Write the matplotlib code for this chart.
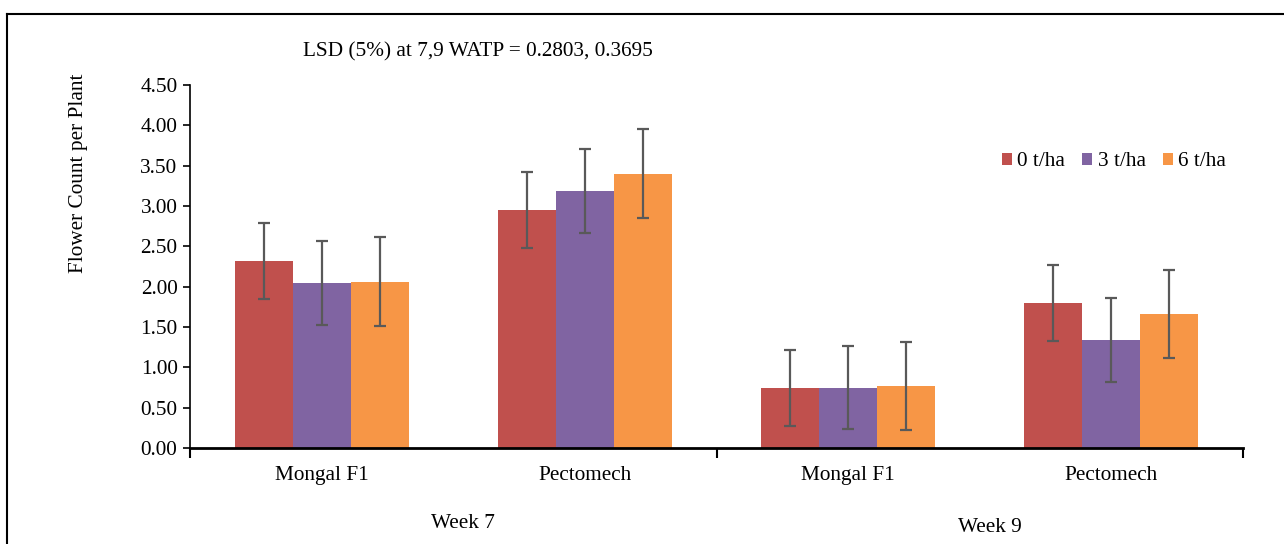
import matplotlib
matplotlib.use("Agg")
import matplotlib.pyplot as plt
import numpy as np
from matplotlib.lines import Line2D

plt.rcParams['font.family'] = ['Liberation Serif', 'DejaVu Serif']

categories = ["Mongal F1", "Pectomech", "Mongal F1", "Pectomech"]
weeks = ["Week 7", "Week 9"]
series_names = ["0 t/ha", "3 t/ha", "6 t/ha"]
vals_0 = [2.32, 2.95, 0.74, 1.80]
vals_3 = [2.05, 3.19, 0.75, 1.34]
vals_6 = [2.06, 3.40, 0.77, 1.66]
err_0 = [0.47, 0.47, 0.47, 0.47]
err_3 = [0.52, 0.52, 0.52, 0.52]
err_6 = [0.55, 0.55, 0.55, 0.55]
yticks = [0.0, 0.5, 1.0, 1.5, 2.0, 2.5, 3.0, 3.5, 4.0, 4.5]
annotation = "LSD (5%) at 7,9 WATP = 0.2803, 0.3695"
ylabel = "Flower Count per Plant"

colors = ["#C0504D", "#8064A2", "#F79646"]
W, H = 1284, 544
fig = plt.figure(figsize=(W/100, H/100), dpi=100)
ax = fig.add_axes([190/W, 1-448/H, (1243-190)/W, (448-85)/H])

fs = 15.3
x = np.arange(len(categories))
bw = 58/263
for i, (v, e, c, n) in enumerate(zip([vals_0, vals_3, vals_6], [err_0, err_3, err_6], colors, series_names)):
    ax.bar(x + (i-1)*bw, v, width=bw, color=c, label=n, zorder=2)
    ax.errorbar(x + (i-1)*bw, v, yerr=e, fmt='none', ecolor='#595959', elinewidth=1.6,
                capsize=4.5, capthick=1.6, zorder=3)

ax.set_xlim(-0.5, 3.5)
ax.set_ylim(0, 4.5)
ax.set_yticks(yticks)
ax.set_yticklabels([f"{t:.2f}" for t in yticks], fontsize=fs)
ax.set_xticks(x)
ax.set_xticklabels(categories, fontsize=fs)
ax.tick_params(axis='x', which='major', length=0, pad=13)
ax.set_xticks([-0.5, 1.5, 3.5], minor=True)
ax.tick_params(axis='x', which='minor', length=7, width=1.5, direction='out')
ax.tick_params(axis='y', length=5, width=1.2, direction='out', pad=4)
for s in ['top', 'right']:
    ax.spines[s].set_visible(False)
ax.spines['left'].set_linewidth(1.2)
ax.spines['bottom'].set_linewidth(2)

fig.text(463/W, 1-523/H, weeks[0], fontsize=fs, ha='center', va='center')
fig.text(990/W, 1-527/H, weeks[1], fontsize=fs, ha='center', va='center')
fig.text(303/W, 1-52/H, annotation, fontsize=fs, ha='left', va='center')
fig.text(79/W, 1-173/H, ylabel, fontsize=fs, ha='center', va='center', rotation=90)

leg = ax.legend(loc='center', bbox_to_anchor=(1114/W, 1-162/H), bbox_transform=fig.transFigure,
                ncol=3, frameon=False, fontsize=fs, handlelength=0.48, handleheight=0.48,
                handletextpad=0.25, columnspacing=0.8, borderpad=0)

# outer chart border (top and left visible)
fig.add_artist(Line2D([7/W, 7/W], [0, 1-14/H], transform=fig.transFigure, color='black', lw=1.5))
fig.add_artist(Line2D([7/W, 1], [1-14/H, 1-14/H], transform=fig.transFigure, color='black', lw=1.5))

fig.savefig("out.png", dpi=100)
